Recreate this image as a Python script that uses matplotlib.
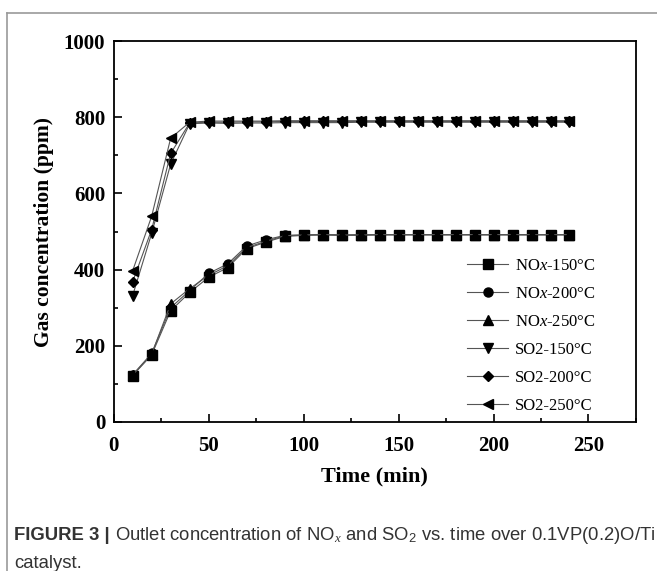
import matplotlib
matplotlib.use("Agg")
import matplotlib.pyplot as plt
from matplotlib.lines import Line2D
from matplotlib.ticker import MultipleLocator

plt.rcParams['font.family'] = ['Liberation Serif', 'DejaVu Serif']
plt.rcParams['mathtext.fontset'] = 'custom'
plt.rcParams['mathtext.rm'] = 'Liberation Sans'
plt.rcParams['mathtext.it'] = 'Liberation Serif:italic'

# time points (min)
t = [10, 20, 30, 40, 50, 60, 70, 80, 90, 100, 110, 120, 130, 140, 150, 160,
     170, 180, 190, 200, 210, 220, 230, 240]

# outlet concentrations (ppm)
nox_150 = [122, 176, 292, 340, 380, 405, 455, 472, 487, 490, 491, 490, 490, 491,
           491, 491, 491, 491, 491, 491, 491, 491, 491, 491]
nox_200 = [124, 180, 300, 345, 390, 415, 462, 478, 490, 491, 492, 491, 492, 492,
           492, 492, 492, 492, 492, 492, 492, 492, 492, 492]
nox_250 = [123, 178, 310, 350, 385, 410, 458, 474, 489, 491, 492, 491, 491, 492,
           492, 492, 492, 492, 492, 492, 492, 492, 492, 492]
so2_150 = [332, 495, 677, 783, 785, 784, 785, 785, 786, 786, 786, 786, 787, 787,
           787, 787, 787, 787, 787, 787, 787, 787, 787, 787]
so2_200 = [368, 505, 705, 785, 787, 787, 788, 788, 789, 789, 789, 789, 789, 789,
           789, 789, 789, 789, 789, 789, 789, 789, 789, 789]
so2_250 = [397, 540, 745, 787, 790, 790, 790, 790, 791, 791, 791, 791, 791, 791,
           791, 791, 791, 791, 791, 791, 791, 791, 791, 791]

series = [
    (nox_150, 's', 'NO$\\mathit{x}$-150°C'),
    (nox_200, 'o', 'NO$\\mathit{x}$-200°C'),
    (nox_250, '^', 'NO$\\mathit{x}$-250°C'),
    (so2_150, 'v', 'SO2-150°C'),
    (so2_200, 'D', 'SO2-200°C'),
    (so2_250, '<', 'SO2-250°C'),
]

fig = plt.figure(figsize=(6.57, 5.71), dpi=100)
ax = fig.add_axes([0.173, 0.261, 0.795, 0.667])

for ys, m, lab in series:
    ms = 5.5 if m == 'D' else 6.5
    ax.plot(t, ys, color='#555555', linewidth=0.8, marker=m, markersize=ms,
            markerfacecolor='black', markeredgecolor='black', label=lab)

ax.set_xlim(0, 275)
ax.set_ylim(0, 1000)
ax.xaxis.set_major_locator(MultipleLocator(50))
ax.xaxis.set_minor_locator(MultipleLocator(25))
ax.yaxis.set_major_locator(MultipleLocator(200))
ax.yaxis.set_minor_locator(MultipleLocator(100))
ax.tick_params(which='both', direction='in', top=False, right=False, width=1.2)
ax.tick_params(which='major', length=6, labelsize=15)
ax.tick_params(axis='x', which='major', pad=10)
ax.tick_params(axis='y', which='major', pad=6)
ax.tick_params(which='minor', length=3)
for lbl in ax.get_xticklabels() + ax.get_yticklabels():
    lbl.set_fontweight('bold')
for s in ax.spines.values():
    s.set_linewidth(1.3)

ax.set_xlabel('Time (min)', fontsize=16, fontweight='bold', labelpad=8)
ax.set_ylabel('Gas concentration (ppm)', fontsize=15.5, fontweight='bold', labelpad=7)

leg = ax.legend(loc='lower left', bbox_to_anchor=(0.66, 0.0), frameon=False,
                borderpad=0, fontsize=12, handlelength=2.5, labelspacing=0.72,
                handletextpad=0.4)

# page frame lines
fig.add_artist(Line2D([0.011, 0.011], [0.0, 0.977], color='#999999', linewidth=1.2))
fig.add_artist(Line2D([0.011, 1.0], [0.977, 0.977], color='#999999', linewidth=1.2))

# caption
cap = fig.text(0.021, 0.055, 'FIGURE 3 |', fontfamily='Liberation Sans', fontweight='bold',
               fontsize=13.3, color='#333333')
fig.canvas.draw()
bb = cap.get_window_extent().transformed(fig.transFigure.inverted())
fig.text(bb.x1 + 0.008, 0.055,
         'Outlet concentration of NO$_{x}$ and SO$_{2}$ vs. time over 0.1VP(0.2)O/Ti',
         fontfamily='Liberation Sans', fontsize=13.3, color='#333333')
fig.text(0.021, 0.006, 'catalyst.', fontfamily='Liberation Sans', fontsize=13.3, color='#333333')

fig.savefig('out.png', dpi=100)
